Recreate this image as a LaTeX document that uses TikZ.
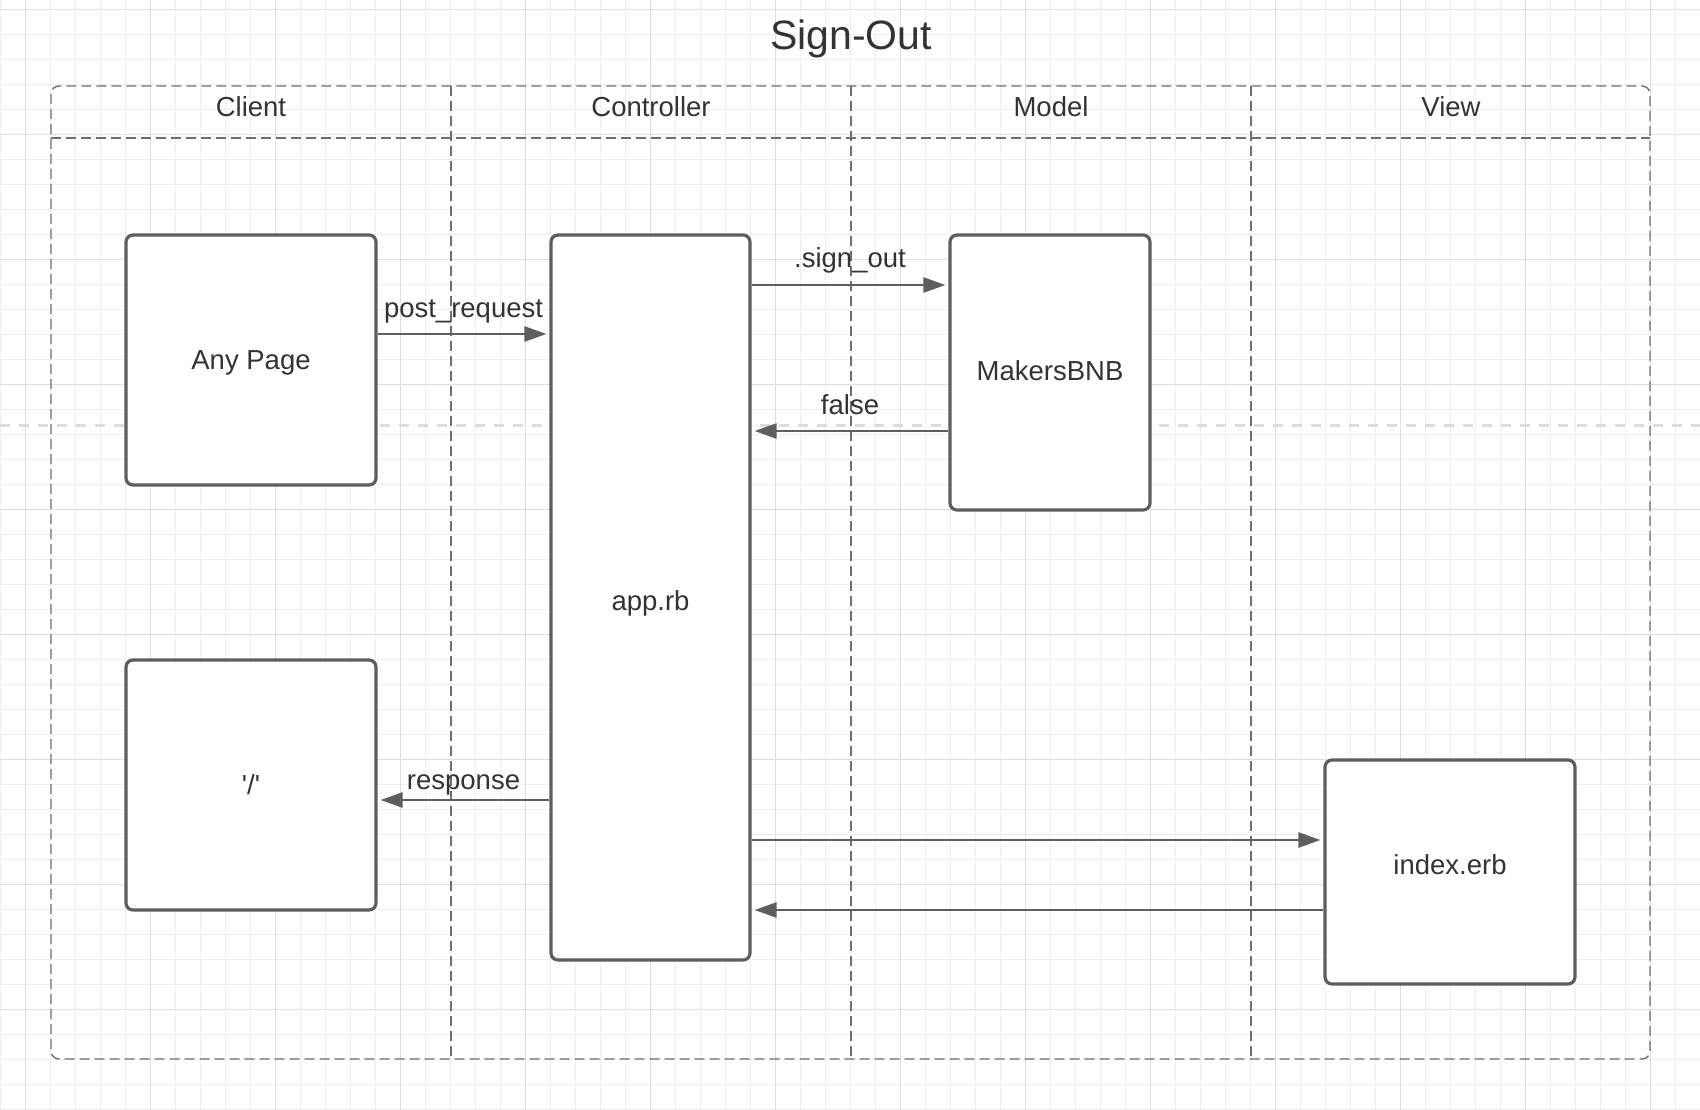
\documentclass[tikz,border=0pt]{standalone}
\usepackage{fontspec}
\setmainfont{Liberation Sans}
\usepackage{tikz}
\usetikzlibrary{arrows.meta}
\definecolor{inkgrey}{HTML}{333333}
\definecolor{boxgrey}{HTML}{5E5E5E}
\definecolor{lanegrey}{HTML}{6E6E6E}
\definecolor{minorgrid}{HTML}{EEEEEE}
\definecolor{majorgrid}{HTML}{DEDEDE}
\definecolor{pagebreak}{HTML}{DCDCDC}
\tikzset{
	stepbox/.style={draw=boxgrey, line width=3.2pt, fill=white, rounded corners=7pt, inner sep=0pt, text=inkgrey, font=\fontsize{27.5}{33}\selectfont},
	flow/.style={draw=boxgrey, line width=2.6pt, -{Triangle[length=22pt,width=15pt]}, shorten >=3pt},
	flowlabel/.style={text=inkgrey, font=\fontsize{27.5}{33}\selectfont, inner sep=0pt, anchor=base, yshift=17pt},
	lanetitle/.style={text=inkgrey, font=\fontsize{27.5}{33}\selectfont},
	laneline/.style={draw=lanegrey, line width=1.4pt, dash pattern=on 10pt off 5pt}
}

\begin{document}
\begin{tikzpicture}[x=1pt, y=-1pt]
		\useasboundingbox (0,0) rectangle (1700,1110);
		\fill [white] (0,0) rectangle (1700,1110);
		\foreach \gx in {0.5,25.5,...,1700}
			\draw [minorgrid, line width=1pt] (\gx,0) -- (\gx,1110);
		\foreach \gy in {9.5,34.5,...,1110}
			\draw [minorgrid, line width=1pt] (0,\gy) -- (1700,\gy);
		\foreach \gx in {25.5,150.5,...,1700}
			\draw [majorgrid, line width=1pt] (\gx,0) -- (\gx,1110);
		\foreach \gy in {9.5,134.5,...,1110}
			\draw [majorgrid, line width=1pt] (0,\gy) -- (1700,\gy);
		\draw [pagebreak, line width=3pt, dash pattern=on 10pt off 9pt] (0,425) -- (1700,425);

		\node [text=inkgrey, font=\fontsize{41}{49}\selectfont] (title) at (851,39) {Sign-Out};

		\draw [laneline, rounded corners=8pt] (51,86) rectangle (1650,1059);
		\draw [laneline] (51,138) -- (1650,138);
		\foreach \lx in {451,851,1251}
			\draw [laneline] (\lx,86) -- (\lx,1059);
		\node [lanetitle] (client) at (251,107) {Client};
		\node [lanetitle] (controller) at (651,107) {Controller};
		\node [lanetitle] (model) at (1051,107) {Model};
		\node [lanetitle] (view) at (1451,107) {View};

		\node [stepbox, minimum width=250pt, minimum height=250pt, text height=24.4pt, text depth=5.8pt] (anypage) at (251,360) {Any Page};
		\node [stepbox, minimum width=250pt, minimum height=250pt] (slash) at (251,785) {\textquotesingle/\textquotesingle};
		\node [stepbox, minimum width=199pt, minimum height=725pt, text height=31pt, text depth=5.8pt] (apprb) at (650.5,597.5) {app.rb};
		\node [stepbox, minimum width=200pt, minimum height=275pt, text height=20pt, text depth=4.4pt] (makers) at (1050,372.5) {MakersBNB};
		\node [stepbox, minimum width=250pt, minimum height=224pt, text height=20pt, text depth=15pt] (index) at (1450,872) {index.erb};

		\draw [flow] ([yshift=26pt]anypage.east) -- node [flowlabel] {post\_request} ([yshift=26pt]anypage.east -| apprb.west);
		\draw [flow] ([yshift=87.5pt]makers.west -| apprb.east) -- node [flowlabel, yshift=1pt] {.sign\_out} ([yshift=87.5pt]makers.west);
		\draw [flow] ([yshift=-58.5pt]makers.west) -- node [flowlabel] {false} ([yshift=-58.5pt]makers.west -| apprb.east);
		\draw [flow] ([yshift=-15pt]slash.east -| apprb.west) -- node [flowlabel, yshift=-6pt] {response} ([yshift=-15pt]slash.east);
		\draw [flow] ([yshift=32pt]index.west -| apprb.east) -- ([yshift=32pt]index.west);
		\draw [flow] ([yshift=-38pt]index.west) -- ([yshift=-38pt]index.west -| apprb.east);

	\end{tikzpicture}
\end{document}
